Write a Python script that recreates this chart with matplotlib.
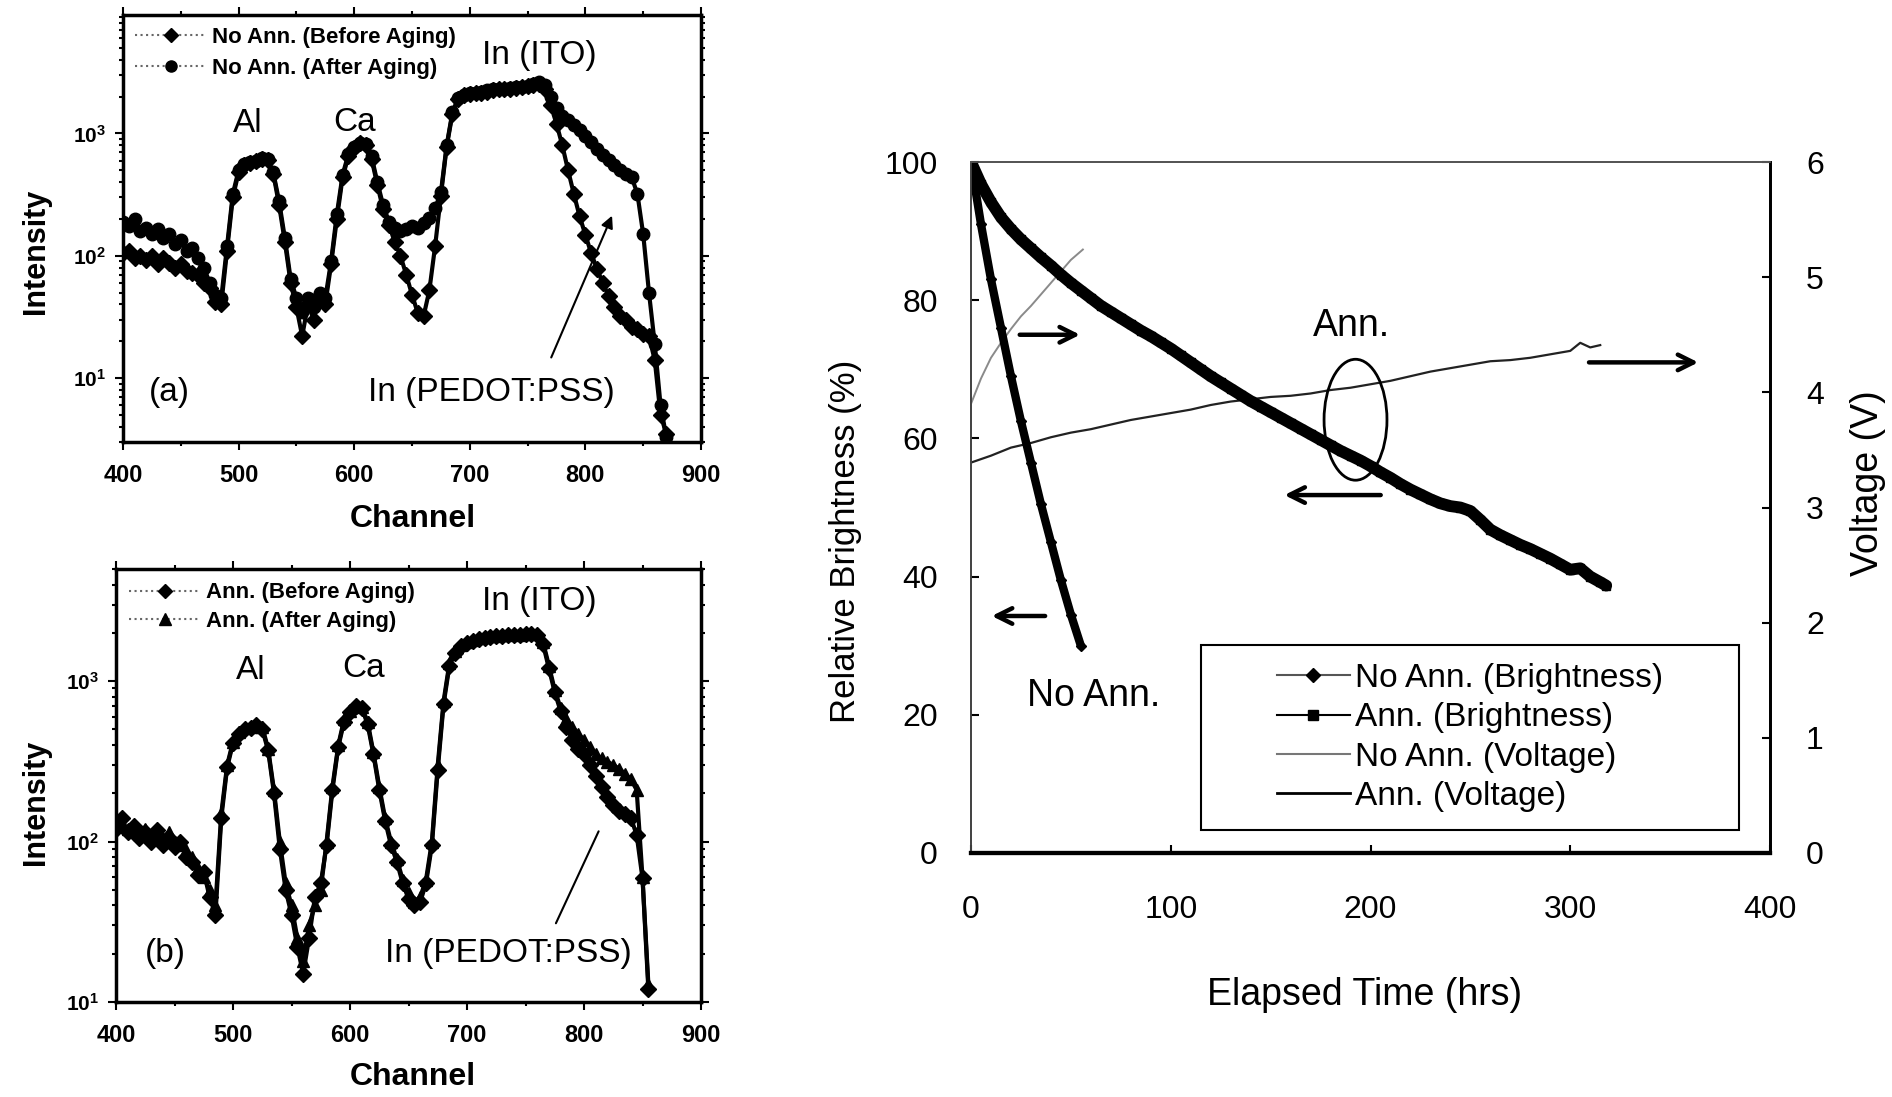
import numpy as np
import matplotlib
matplotlib.use('Agg')
import matplotlib.pyplot as plt
from matplotlib.patches import Ellipse, Rectangle
from matplotlib.lines import Line2D
from matplotlib.ticker import FixedLocator, LogLocator, NullFormatter, MultipleLocator

plt.rcParams['font.family'] = ['Liberation Sans', 'DejaVu Sans']
plt.rcParams['mathtext.fontset'] = 'custom'
plt.rcParams['mathtext.rm'] = 'Liberation Sans:bold'
plt.rcParams['mathtext.bf'] = 'Liberation Sans:bold'
plt.rcParams['mathtext.it'] = 'Liberation Sans:bold'

# ---------------- data: panel (a) ----------------
channel_a = list(range(400, 871, 5))
noann_after = [190, 175, 200, 160, 170, 150, 165, 140, 150, 125, 135, 110, 115, 95, 80, 60, 48, 45,
               120, 320, 500, 560, 580, 600, 630, 620, 480, 280, 140, 65, 45, 35, 45, 38, 50, 45,
               90, 220, 460, 680, 780, 840, 820, 650, 400, 260, 190, 170, 160, 165, 175, 170, 185,
               205, 245, 330, 800, 1500, 1950, 2050, 2150, 2150, 2200, 2250, 2300, 2300, 2300, 2350,
               2400, 2400, 2450, 2550, 2650, 2500, 2000, 1600, 1400, 1280, 1170, 1060, 960, 850, 740,
               670, 610, 550, 500, 470, 440, 320, 150, 50, 19, 6, 3.3]
noann_before = [105, 110, 95, 100, 92, 100, 85, 95, 88, 80, 85, 75, 72, 70, 60, 55, 42, 40,
                110, 300, 480, 550, 570, 590, 620, 610, 470, 260, 130, 60, 38, 22, 40, 30, 48, 40,
                85, 200, 440, 650, 760, 830, 800, 620, 380, 240, 180, 130, 100, 70, 48, 34, 32,
                52, 120, 310, 780, 1450, 1900, 2050, 2100, 2150, 2150, 2200, 2250, 2300, 2300, 2300,
                2350, 2400, 2450, 2500, 2550, 2300, 1700, 1200, 800, 500, 320, 210, 148, 105, 78,
                60, 47, 38, 32, 30, 26, 25, 23, 22, 14, 5, 3.5]

# ---------------- data: panel (b) ----------------
channel_b = list(range(400, 856, 5))
ann_after = [135, 125, 120, 118, 112, 120, 108, 110, 105, 115, 100, 95, 88, 80, 68, 60, 50, 40,
             150, 300, 420, 480, 510, 520, 540, 520, 380, 210, 100, 55, 40, 25, 18, 30, 40, 50,
             100, 220, 400, 580, 650, 710, 690, 560, 360, 220, 140, 100, 78, 58, 48, 42, 45,
             58, 100, 300, 750, 1300, 1550, 1680, 1750, 1800, 1850, 1880, 1900, 1920, 1950, 1950,
             1960, 1950, 1980, 2000, 1980, 1750, 1250, 880, 680, 580, 520, 470, 430, 390, 350,
             330, 315, 300, 285, 265, 245, 210, 60, 13]
ann_before = [120, 140, 115, 125, 105, 115, 100, 118, 95, 105, 92, 100, 80, 75, 62, 65, 45, 35,
              140, 290, 410, 470, 500, 510, 530, 500, 370, 200, 90, 50, 35, 22, 15, 25, 45, 55,
              95, 210, 390, 560, 640, 700, 680, 540, 350, 210, 135, 95, 75, 55, 44, 40, 42,
              55, 95, 280, 720, 1250, 1500, 1650, 1730, 1780, 1820, 1850, 1880, 1900, 1920, 1930,
              1950, 1930, 1960, 1980, 1950, 1700, 1200, 850, 650, 520, 430, 380, 350, 300, 257,
              220, 190, 170, 155, 148, 141, 110, 59, 12]

rbs_xticks = [400, 500, 600, 700, 800, 900]

# ---------------- data: right panel ----------------
t_noann_b = [0, 5, 10, 15, 20, 25, 30, 35, 40, 45, 50, 55]
b_noann = [100, 91, 83, 76, 69, 62.5, 56.5, 50.5, 45, 39.5, 34.5, 30]

t_ann_b = list(range(0, 316, 5)) + [318]
b_ann = [100, 96.8, 94.2, 92.0, 90.3, 88.8, 87.5, 86.2, 85.0, 83.7, 82.5, 81.4, 80.3, 79.2, 78.3,
         77.4, 76.5, 75.6, 74.8, 73.9, 73.0, 72.0, 71.0, 70.0, 69.0, 68.1, 67.2, 66.3, 65.4, 64.6,
         63.8, 63.0, 62.2, 61.4, 60.6, 59.8, 59.0, 58.2, 57.5, 56.8, 56.0, 55.1, 54.3, 53.4, 52.6,
         51.9, 51.2, 50.6, 50.2, 50.0, 49.5, 48.2, 46.8, 46.0, 45.3, 44.6, 44.0, 43.3, 42.6, 41.8,
         41.0, 41.2, 40.0, 39.2, 38.7]

t_noann_v = [0, 5, 10, 15, 20, 25, 30, 35, 40, 45, 50, 56]
v_noann = [3.9, 4.12, 4.3, 4.43, 4.55, 4.66, 4.75, 4.85, 4.95, 5.05, 5.15, 5.24]

t_ann_v = [0, 10, 20, 30, 40, 50, 60, 70, 80, 90, 100, 110, 120, 130, 140, 150, 160, 170, 180, 190,
           200, 210, 220, 230, 240, 250, 260, 270, 280, 290, 300, 305, 310, 315]
v_ann = [3.39, 3.45, 3.52, 3.56, 3.61, 3.65, 3.68, 3.72, 3.76, 3.79, 3.82, 3.85, 3.89, 3.92, 3.94,
         3.96, 3.97, 3.99, 4.02, 4.04, 4.07, 4.10, 4.14, 4.18, 4.21, 4.24, 4.27, 4.28, 4.30, 4.33,
         4.36, 4.43, 4.39, 4.41]

W, H = 1892, 1097


def fx(x):
    return x / W


def fy(y):
    return 1 - y / H


fig = plt.figure(figsize=(W / 100, H / 100), dpi=100)
axa = fig.add_axes([123 / W, 1 - 442 / H, 578 / W, 427 / H])
axb = fig.add_axes([116 / W, 1 - 1002 / H, 585 / W, 433 / H])
axr = fig.add_axes([971 / W, 1 - 853 / H, 799 / W, 691 / H])


def style_rbs(ax, ylim):
    ax.set_yscale('log')
    ax.set_xlim(400, 900)
    ax.set_ylim(*ylim)
    ax.xaxis.set_major_locator(FixedLocator(rbs_xticks))
    ax.xaxis.set_minor_locator(MultipleLocator(50))
    ax.set_xticklabels([str(v) for v in rbs_xticks], fontweight='bold', fontsize=17)
    ax.yaxis.set_major_locator(FixedLocator([10, 100, 1000]))
    ax.set_yticklabels([r'$\mathbf{10^{1}}$', r'$\mathbf{10^{2}}$', r'$\mathbf{10^{3}}$'], fontsize=15)
    ax.yaxis.set_minor_locator(LogLocator(base=10, subs=np.arange(2, 10)))
    ax.yaxis.set_minor_formatter(NullFormatter())
    ax.tick_params(which='both', direction='out', top=True, right=True, width=1.5)
    ax.tick_params(which='major', length=6)
    ax.tick_params(which='minor', length=3)
    ax.tick_params(axis='x', pad=10)
    ax.tick_params(axis='y', pad=6)
    for s in ax.spines.values():
        s.set_linewidth(2.5)


series_kw = dict(color='k', lw=3, mec='k', mfc='k')

# ---------------- panel (a) ----------------
style_rbs(axa, (3, 9300))
axa.plot(channel_a, noann_before, marker='D', ms=8, label='No Ann. (Before Aging)', **series_kw)
axa.plot(channel_a, noann_after, marker='o', ms=9, label='No Ann. (After Aging)', **series_kw)
axa.legend(handles=[Line2D([], [], color='#666', lw=1.5, ls=':', marker='D', ms=7, mfc='k', mec='k'),
                    Line2D([], [], color='#666', lw=1.5, ls=':', marker='o', ms=8, mfc='k', mec='k')],
           labels=['No Ann. (Before Aging)', 'No Ann. (After Aging)'],
           loc='upper left', bbox_to_anchor=(0.0, 1.0), borderaxespad=0, borderpad=0.55,
           frameon=False, handlelength=3.2, handletextpad=0.25, labelspacing=0.45,
           prop={'weight': 'bold', 'size': 16})
axa.text(0.721, 0.904, 'In (ITO)', transform=axa.transAxes, ha='center', va='center', fontsize=24)
axa.text(0.215, 0.747, 'Al', transform=axa.transAxes, ha='center', va='center', fontsize=24)
axa.text(0.400, 0.749, 'Ca', transform=axa.transAxes, ha='center', va='center', fontsize=24)
axa.text(0.080, 0.115, '(a)', transform=axa.transAxes, ha='center', va='center', fontsize=24)
axa.text(0.637, 0.115, 'In (PEDOT:PSS)', transform=axa.transAxes, ha='center', va='center', fontsize=24)
axa.annotate('', xy=(0.848, 0.536), xytext=(0.739, 0.192), xycoords='axes fraction',
             textcoords='axes fraction',
             arrowprops=dict(arrowstyle='-|>', color='k', lw=1.5, mutation_scale=18))

# ---------------- panel (b) ----------------
style_rbs(axb, (10, 5000))
axb.plot(channel_b, ann_before, marker='D', ms=8, label='Ann. (Before Aging)', **series_kw)
axb.plot(channel_b, ann_after, marker='^', ms=9, label='Ann. (After Aging)', **series_kw)
axb.legend(handles=[Line2D([], [], color='#666', lw=1.5, ls=':', marker='D', ms=7, mfc='k', mec='k'),
                    Line2D([], [], color='#666', lw=1.5, ls=':', marker='^', ms=8, mfc='k', mec='k')],
           labels=['Ann. (Before Aging)', 'Ann. (After Aging)'],
           loc='upper left', bbox_to_anchor=(0.0, 1.0), borderaxespad=0, borderpad=0.6,
           frameon=False, handlelength=3.2, handletextpad=0.25, labelspacing=0.35,
           prop={'weight': 'bold', 'size': 16})
axb.text(0.723, 0.924, 'In (ITO)', transform=axb.transAxes, ha='center', va='center', fontsize=24)
axb.text(0.231, 0.766, 'Al', transform=axb.transAxes, ha='center', va='center', fontsize=24)
axb.text(0.424, 0.771, 'Ca', transform=axb.transAxes, ha='center', va='center', fontsize=24)
axb.text(0.085, 0.111, '(b)', transform=axb.transAxes, ha='center', va='center', fontsize=24)
axb.text(0.670, 0.113, 'In (PEDOT:PSS)', transform=axb.transAxes, ha='center', va='center', fontsize=24)
axb.annotate('', xy=(0.827, 0.400), xytext=(0.750, 0.176), xycoords='axes fraction',
             textcoords='axes fraction',
             arrowprops=dict(arrowstyle='-', color='k', lw=1.5))

# axis labels for left panels
for (cx, cy) in [(413, 519), (413, 1077)]:
    fig.text(fx(cx), fy(cy), 'Channel', ha='center', va='center', fontsize=23, fontweight='bold')
for (cx, cy) in [(36, 251), (36, 802)]:
    fig.text(fx(cx), fy(cy), 'Intensity', ha='center', va='center', fontsize=22, fontweight='bold',
             rotation=90)

# ---------------- right panel ----------------
axv = axr.twinx()
axr.set_xlim(0, 400)
axr.set_ylim(0, 100)
axv.set_ylim(0, 6)
axr.set_xticks([0, 100, 200, 300, 400])
axr.set_yticks([0, 20, 40, 60, 80, 100])
axv.set_yticks([0, 1, 2, 3, 4, 5, 6])
axr.tick_params(axis='both', direction='in', length=6, width=1.5, labelsize=23)
axr.tick_params(axis='x', pad=30)
axr.tick_params(axis='y', pad=24)
axv.tick_params(axis='y', direction='in', length=6, width=1.5, labelsize=23, pad=26)

axv.plot(t_noann_v, v_noann, color='#8a8a8a', lw=1.4)
axv.plot(t_ann_v, v_ann, color='#222222', lw=1.6)
axr.set_zorder(axv.get_zorder() + 1)
axr.patch.set_visible(False)
axr.plot(t_noann_b, b_noann, color='k', lw=6, marker='D', ms=5, solid_capstyle='round')
axr.plot(t_ann_b, b_ann, color='k', lw=8.5, marker='s', ms=6, solid_capstyle='round')

for ax in (axr, axv):
    ax.spines['left'].set_linewidth(1.3)
    ax.spines['left'].set_color('#444')
    ax.spines['top'].set_linewidth(1.3)
    ax.spines['top'].set_color('#555')
    ax.spines['bottom'].set_linewidth(3)
    ax.spines['bottom'].set_color('k')
    ax.spines['right'].set_linewidth(2)
    ax.spines['right'].set_color('k')

arrow_kw = dict(arrowstyle='->', color='k', lw=3.2, mutation_scale=28)
axr.annotate('', xy=(56, 75), xytext=(23, 75), arrowprops=arrow_kw)
axr.annotate('', xy=(155.5, 51.8), xytext=(206.5, 51.8), arrowprops=arrow_kw)
axr.annotate('', xy=(9, 34.3), xytext=(38.5, 34.3), arrowprops=arrow_kw)
axr.annotate('', xy=(365.5, 71), xytext=(308, 71), arrowprops=arrow_kw)
axr.add_patch(Ellipse((192.5, 62.7), 31.5, 17.5, fill=False, ec='k', lw=2))
axr.text(190.5, 76.3, 'Ann.', ha='center', va='center', fontsize=27)
axr.text(61.5, 22.7, 'No Ann.', ha='center', va='center', fontsize=27)

axr.add_patch(Rectangle((0.288, 0.033), 0.673, 0.268, transform=axr.transAxes, fc='white',
                        ec='k', lw=1.5, zorder=5))
handles = [Line2D([], [], color='#555', lw=1.5, marker='D', ms=7, mfc='k', mec='k'),
           Line2D([], [], color='k', lw=1.5, marker='s', ms=7, mfc='k', mec='k'),
           Line2D([], [], color='#777', lw=1.5),
           Line2D([], [], color='k', lw=2)]
labels = ['No Ann. (Brightness)', 'Ann. (Brightness)', 'No Ann. (Voltage)', 'Ann. (Voltage)']
leg = axr.legend(handles, labels, loc='center', bbox_to_anchor=(0.6245, 0.167), frameon=False,
                 fontsize=24, handlelength=2.2, handletextpad=0.15, labelspacing=0.25,
                 borderpad=0.1)
leg.set_zorder(6)

fig.text(fx(845), fy(541), 'Relative Brightness (%)', rotation=90, ha='center', va='center',
         fontsize=25)
fig.text(fx(1868), fy(483), 'Voltage (V)', rotation=90, ha='center', va='center', fontsize=27)
fig.text(fx(1365), fy(995), 'Elapsed Time (hrs)', ha='center', va='center', fontsize=27)

fig.savefig('out.png', dpi=100)
